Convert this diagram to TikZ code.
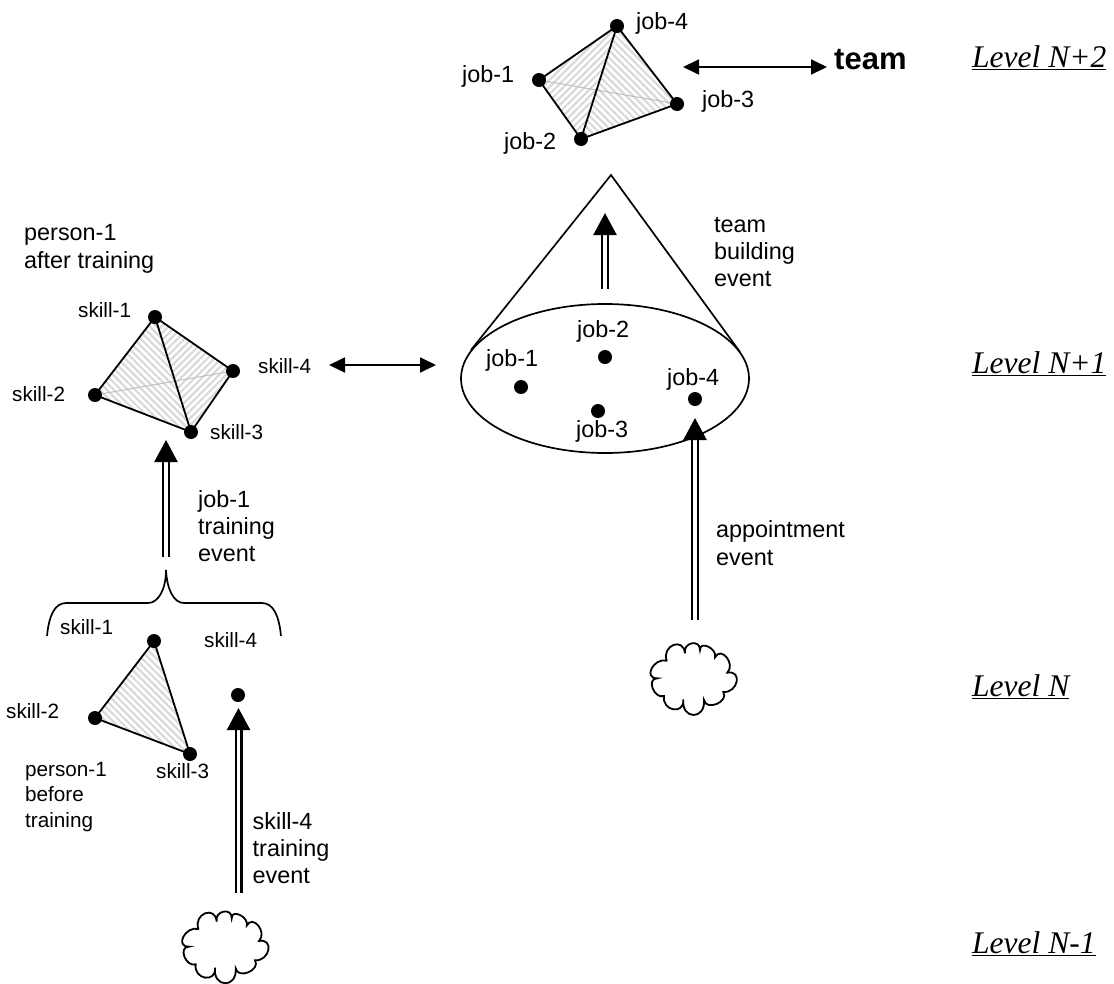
\documentclass[tikz,border=0pt]{standalone}
\usepackage{fontspec}
\setmainfont{Liberation Serif}
\newfontfamily\arialf{Liberation Sans}
\usetikzlibrary{arrows.meta,patterns.meta,calc,shapes.geometric}
\newcommand{\bmp}[3]{.. controls ($.435*#1+1.33*#2-.765*#3$) and ($.435*#3+1.33*#2-.765*#1$) .. #3}
\tikzset{
 x=1pt,y=-1pt,
 dot/.style={circle,fill=black,draw=none,minimum size=14pt,inner sep=0pt},
 lab/.style={anchor=west,inner sep=0pt,align=left,font=\arialf\fontsize{23.4}{27.3}\selectfont},
 slab/.style={anchor=west,inner sep=0pt,align=left,font=\arialf\fontsize{20.7}{25.5}\selectfont},
 lev/.style={anchor=west,inner sep=0pt,font=\fontsize{31.5}{36}\selectfont\itshape},
 edge/.style={draw=black,line width=1.8pt},
 hatchA/.style={pattern={Lines[angle=45,distance=5pt,line width=2.2pt]},pattern color=black!15},
 hatchB/.style={pattern={Lines[angle=-45,distance=5pt,line width=2.2pt]},pattern color=black!15},
 hidden/.style={draw=black!25,line width=1pt},
 bigarrow/.style={double,double distance=3.2pt,line width=2.4pt,-{Triangle[length=22pt,width=23pt]}},
 both/.style={line width=1.8pt,{Triangle[length=16pt,width=15pt]}-{Triangle[length=16pt,width=15pt]}},
 thin line/.style={draw=black,line width=1.7pt},
 cloudshape/.pic={
  \draw[line width=1.8pt,scale=1/3,line cap=round] (80,182)
   \bmp{(80,182)}{(100,135)}{(135,160)}
   \bmp{(135,160)}{(155,130)}{(180,150)}
   \bmp{(180,150)}{(205,140)}{(225,172)}
   \bmp{(225,172)}{(260,172)}{(262,218)}
   \bmp{(262,218)}{(290,245)}{(250,276)}
   \bmp{(250,276)}{(230,312)}{(192,300)}
   \bmp{(192,300)}{(160,345)}{(130,298)}
   \bmp{(130,298)}{(100,328)}{(72,288)}
   \bmp{(72,288)}{(38,265)}{(52,235)}
   \bmp{(52,235)}{(35,205)}{(80,182)};
 },
}
\begin{document}
\begin{tikzpicture}
\useasboundingbox (0,0) rectangle (1114,983);
% coordinates
\coordinate (J1) at (539,80); \coordinate (J2) at (581,139); \coordinate (J3) at (677,104); \coordinate (J4) at (617,26);
\coordinate (S1) at (155,317); \coordinate (S2) at (95,395); \coordinate (S3) at (191,432); \coordinate (S4) at (233,371);
\coordinate (A1) at (154,641); \coordinate (A2) at (95,718); \coordinate (A3) at (190,754);
% hatched faces
\fill[hatchA] (J1)--(J2)--(J4)--cycle;
\fill[hatchB] (J2)--(J3)--(J4)--cycle;
\fill[hatchB] (S1)--(S2)--(S3)--cycle;
\fill[hatchA] (S1)--(S3)--(S4)--cycle;
\fill[hatchB] (A1)--(A2)--(A3)--cycle;
\draw[hidden] (J1)--(J3);
\draw[hidden] (S2)--(S4);
\draw[edge,line join=round] (J1)--(J4)--(J3)--(J2)--cycle (J2)--(J4);
\draw[edge,line join=round] (S1)--(S4)--(S3)--(S2)--cycle (S1)--(S3);
\draw[edge,line join=round] (A1)--(A2)--(A3)--cycle;
% dots
\node[dot] (j1) at (J1) {}; \node[dot] (j2) at (J2) {}; \node[dot] (j3) at (J3) {}; \node[dot] (j4) at (J4) {};
\node[dot] (s1) at (S1) {}; \node[dot] (s2) at (S2) {}; \node[dot] (s3) at (S3) {}; \node[dot] (s4) at (S4) {};
\node[dot] (a1) at (A1) {}; \node[dot] (a2) at (A2) {}; \node[dot] (a3) at (A3) {};
\node[dot] (d4) at (238,695) {};
% oval & cone
\node[draw=black,line width=1.7pt,ellipse,minimum width=288pt,minimum height=149pt,inner sep=0pt] (oval) at (605,378.5) {};
\coordinate (apex) at (611,175);
\coordinate (tanL) at (471,350); \coordinate (tanR) at (740,352);
\draw[thin line] (tanL) -- (apex) -- (tanR);
\node[dot] (o1) at (521,387) {}; \node[dot] (o2) at (605,357) {}; \node[dot] (o3) at (598,411) {}; \node[dot] (o4) at (695,399) {};
% clouds
\pic (c1) at (640,600) {cloudshape};
\pic (c2) at (171.7,868.3) {cloudshape};
% double arrows
\coordinate (b1) at (605,289); \coordinate (t1) at (605,213);
\coordinate (b2) at (166,557); \coordinate (t2) at (166,440);
\coordinate (b3) at (695,620); \coordinate (t3) at (695,418);
\coordinate (b4) at (238.5,893); \coordinate (t4) at (238.5,708);
\draw[bigarrow] (b1)--(t1);
\draw[bigarrow] (b2)--(t2);
\draw[bigarrow] (b3)--(t3);
\draw[bigarrow] (b4)--(t4);
% two-headed arrows
\coordinate (l1) at (329,365); \coordinate (l2) at (436,365);
\coordinate (l3) at (683,67); \coordinate (l4) at (827,67);
\draw[both] (l1)--(l2);
\draw[both] (l3)--(l4);
% brace
\coordinate (br0) at (47,636); \coordinate (br1) at (166,570); \coordinate (br2) at (281,636);
\draw[thin line] (br0) .. controls (49,615) and (55,603) .. (66,603) -- (148,603) .. controls (158,603) and (166,590) .. (br1) .. controls (167,590) and (174,603) .. (184,603) -- (262,603) .. controls (273,603) and (279,615) .. (br2);
% labels
\node[lab] (tj1) at (462,76) {job-1};
\node[lab] (tj2) at (504,143) {job-2};
\node[lab] (tj3) at (702,101) {job-3};
\node[lab] (tj4) at (636,23) {job-4};
\node[anchor=west,inner sep=0pt,font=\arialf\bfseries\fontsize{31}{36}\selectfont] (team) at (834,60) {team};
\node[lab] (tb) at (714,252) {team\\building\\event};
\node[lab] (oj1) at (486,360) {job-1};
\node[lab] (oj2) at (577,331) {job-2};
\node[lab] (oj3) at (576,431) {job-3};
\node[lab] (oj4) at (667,379) {job-4};
\node[lab] (pa) at (24,249) {person-1\\after training};
\node[slab] (ts1) at (78,310) {skill-1};
\node[slab] (ts2) at (12,394) {skill-2};
\node[slab] (ts3) at (210,432) {skill-3};
\node[slab] (ts4) at (258,366) {skill-4};
\node[lab] (jt) at (198,526) {job-1\\training\\event};
\node[lab] (ap) at (716,543) {appointment\\event};
\node[slab] (us1) at (60,627) {skill-1};
\node[slab] (us2) at (6,711) {skill-2};
\node[slab] (us3) at (156,771) {skill-3};
\node[slab] (us4) at (204,640) {skill-4};
\node[slab] (pb) at (25,797) {person-1\\before\\training};
\node[lab] (st) at (252.5,848) {skill-4\\training\\event};
\node[lev] (L2) at (972,58) {\underline{Level N+2}};
\node[lev] (L1) at (972,364) {\underline{Level N+1}};
\node[lev] (L0) at (972,687) {\underline{Level N}};
\node[lev] (Lm) at (972,944) {\underline{Level N-1}};
\end{tikzpicture}
\end{document}
